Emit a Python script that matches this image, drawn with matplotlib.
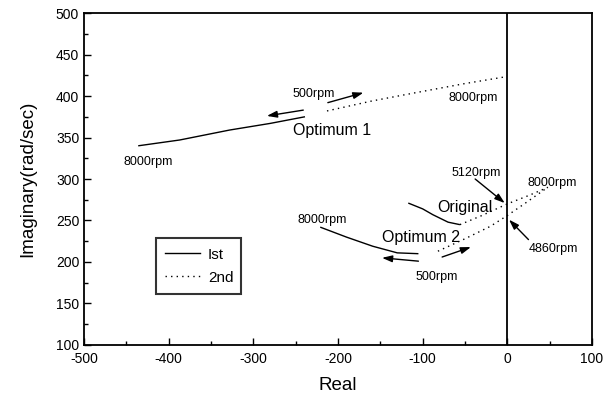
import matplotlib
matplotlib.use("Agg")
import matplotlib.pyplot as plt
from matplotlib.ticker import MultipleLocator
from matplotlib.lines import Line2D

plt.rcParams['font.family'] = ['Liberation Sans', 'DejaVu Sans']
plt.rcParams['axes.unicode_minus'] = False

# Optimum 1
opt1_1st_x = [-436, -387, -328, -280, -239]
opt1_1st_y = [340, 347, 359, 367, 375]
opt1_2nd_x = [-213, -160, -103, -50, -3]
opt1_2nd_y = [382, 394, 405, 415, 423]
# Original
orig_1st_x = [-117, -100, -88, -70, -56]
orig_1st_y = [271, 264, 257, 248, 245]
orig_2nd_x = [-56, -30, 0, 25, 48]
orig_2nd_y = [245, 256, 270, 280, 290]
# Optimum 2
opt2_1st_x = [-221, -190, -159, -130, -105]
opt2_1st_y = [242, 230, 219, 211, 210]
opt2_2nd_x = [-82, -50, -20, 0, 20, 45]
opt2_2nd_y = [213, 228, 243, 256, 270, 288]

fig = plt.figure(figsize=(6.16, 3.98), dpi=100)
ax = fig.add_axes([0.1364, 0.1332, 0.961 - 0.1364, 0.9673 - 0.1332])

lw = 1.0
for x, y in [(opt1_1st_x, opt1_1st_y), (orig_1st_x, orig_1st_y), (opt2_1st_x, opt2_1st_y)]:
    ax.plot(x, y, color='black', lw=lw, solid_capstyle='butt')
for x, y in [(opt1_2nd_x, opt1_2nd_y), (orig_2nd_x, orig_2nd_y), (opt2_2nd_x, opt2_2nd_y)]:
    ax.plot(x, y, color='black', lw=lw, ls=(0, (1, 3)))

ax.axvline(0, color='black', lw=1.3)

ax.set_xlim(-500, 100)
ax.set_ylim(100, 500)
ax.xaxis.set_major_locator(MultipleLocator(100))
ax.xaxis.set_minor_locator(MultipleLocator(50))
ax.yaxis.set_major_locator(MultipleLocator(50))
ax.yaxis.set_minor_locator(MultipleLocator(25))
ax.tick_params(which='both', direction='in', labelsize=10, width=1)
ax.tick_params(which='major', length=5)
ax.tick_params(which='minor', length=3)
ax.tick_params(axis='x', pad=5)
for s in ax.spines.values():
    s.set_linewidth(1.3)

ax.set_xlabel('Real', fontsize=13.5, labelpad=8)
ax.set_ylabel('Imaginary(rad/sec)', fontsize=13.5, labelpad=14)

fs = 9
ax.text(-229, 402, '500rpm', fontsize=fs, ha='center', va='center')
ax.text(-40, 397, '8000rpm', fontsize=fs, ha='center', va='center')
ax.text(-207, 358, 'Optimum 1', fontsize=11.5, ha='center', va='center')
ax.text(-424, 320, '8000rpm', fontsize=fs, ha='center', va='center')
ax.text(-37, 307, '5120rpm', fontsize=fs, ha='center', va='center')
ax.text(53, 295, '8000rpm', fontsize=fs, ha='center', va='center')
ax.text(-50, 266, 'Original', fontsize=11.5, ha='center', va='center')
ax.text(-102, 230, 'Optimum 2', fontsize=11.5, ha='center', va='center')
ax.text(-219, 251, '8000rpm', fontsize=fs, ha='center', va='center')
ax.text(-83, 182, '500rpm', fontsize=fs, ha='center', va='center')
ax.text(54, 216, '4860rpm', fontsize=fs, ha='center', va='center')

ap = dict(arrowstyle='-|>,head_length=0.6,head_width=0.2', color='black', lw=1.0,
          shrinkA=0, shrinkB=0)
arrows = [
    ((-212, 392), (-170, 404)),
    ((-241, 383), (-284, 376)),
    ((-105, 201), (-148, 205)),
    ((-77, 206), (-43, 218)),
    ((-38, 300), (-3, 271)),
    ((25, 227), (2, 251)),
]
for start, end in arrows:
    ax.annotate('', xy=end, xytext=start, arrowprops=ap)

handles = [Line2D([], [], color='black', lw=lw),
           Line2D([], [], color='black', lw=lw, ls=(0, (1, 3)))]
leg = ax.legend(handles, ['Ist', '2nd'], loc='lower left',
                bbox_to_anchor=(0.142, 0.154, 0.167, 0.186), mode='expand',
                fontsize=11, frameon=True, fancybox=False, edgecolor='black',
                handlelength=2.3, handletextpad=0.5, borderaxespad=0,
                borderpad=0.6, labelspacing=0.6)
leg.get_frame().set_linewidth(1.5)

fig.savefig('out.png', dpi=100)
